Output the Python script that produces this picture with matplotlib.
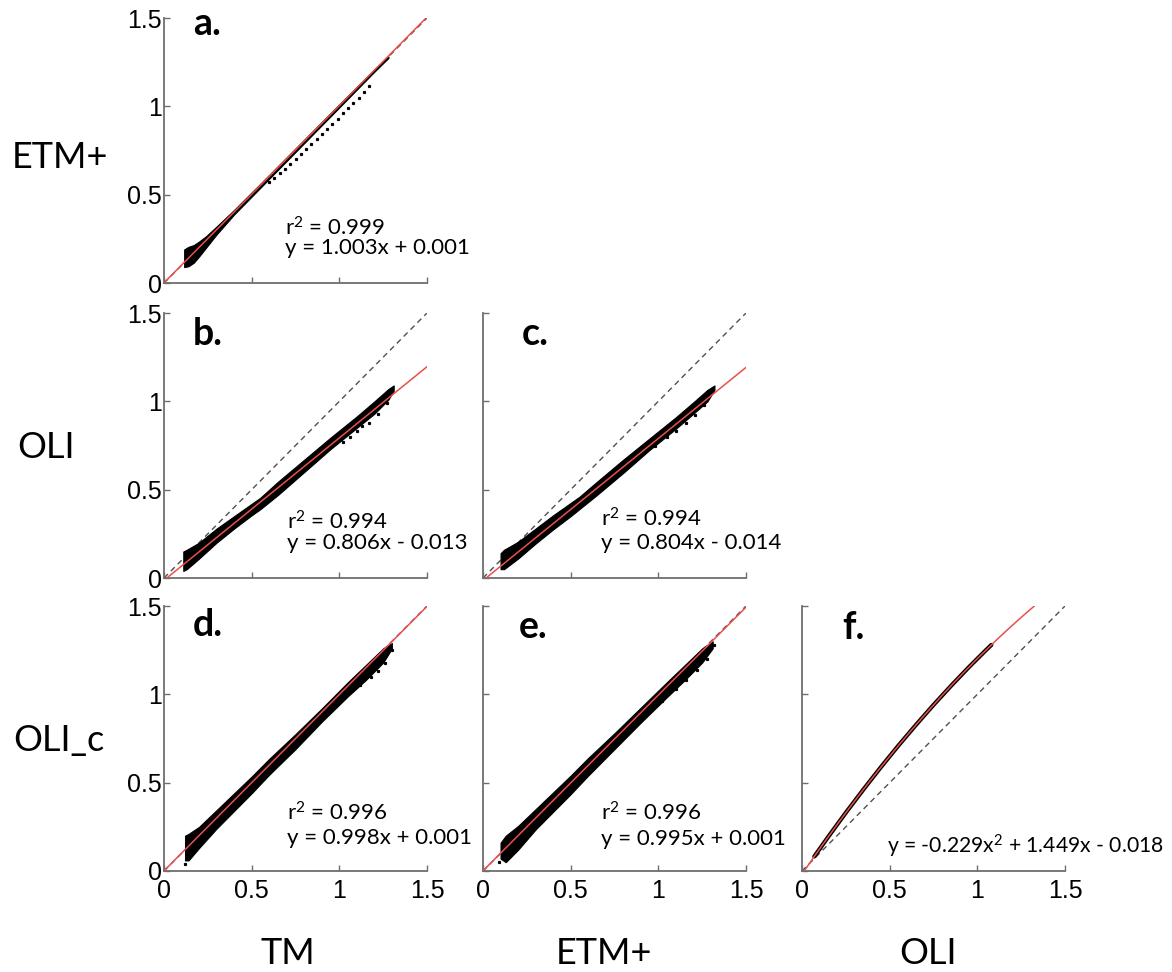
import numpy as np
import matplotlib
matplotlib.use('Agg')
import matplotlib.pyplot as plt

plt.rcParams['font.family'] = ['Lato', 'DejaVu Sans']
plt.rcParams['mathtext.fontset'] = 'custom'
plt.rcParams['mathtext.rm'] = 'Lato'
plt.rcParams['mathtext.it'] = 'Lato:italic'
plt.rcParams['mathtext.bf'] = 'Lato:bold'

# panel labels, fit text and grid positions
PANELS = ['a', 'b', 'c', 'd', 'e', 'f']
ROW_LABELS = ['ETM+', 'OLI', 'OLI_c']
COL_LABELS = ['TM', 'ETM+', 'OLI']
TICKS = [0, 0.5, 1, 1.5]
TICK_LABELS = ['0', '0.5', '1', '1.5']

R2_TEXT = {'a': 'r$^{2}$ = 0.999', 'b': 'r$^{2}$ = 0.994', 'c': 'r$^{2}$ = 0.994',
           'd': 'r$^{2}$ = 0.996', 'e': 'r$^{2}$ = 0.996', 'f': None}
EQ_TEXT = {'a': 'y = 1.003x + 0.001', 'b': 'y = 0.806x - 0.013',
           'c': 'y = 0.804x - 0.014', 'd': 'y = 0.998x + 0.001',
           'e': 'y = 0.995x + 0.001', 'f': 'y = -0.229x$^{2}$ + 1.449x - 0.018'}
# fit coefficients, highest power first
FIT = {'a': [1.003, 0.001], 'b': [0.806, -0.013], 'c': [0.804, -0.014],
       'd': [0.998, 0.001], 'e': [0.995, 0.001], 'f': [-0.229, 1.449, -0.018]}

a_x = [0.115, 0.14, 0.17, 0.20, 0.24, 0.30, 0.40, 0.60, 0.80, 1.00, 1.20, 1.28]
a_lo = [0.09, 0.095, 0.115, 0.15, 0.20, 0.275, 0.388, 0.59, 0.792, 0.994, 1.196, 1.274]
a_hi = [0.19, 0.205, 0.215, 0.235, 0.265, 0.32, 0.414, 0.612, 0.812, 1.012, 1.21, 1.282]

b_x = [0.11, 0.13, 0.20, 0.30, 0.40, 0.50, 0.55, 0.65, 0.80, 0.95, 1.10, 1.20, 1.28, 1.31]
b_lo = [0.04, 0.05, 0.11, 0.20, 0.28, 0.355, 0.39, 0.47, 0.60, 0.73, 0.85, 0.93, 1.01, 1.06]
b_hi = [0.15, 0.16, 0.20, 0.28, 0.35, 0.42, 0.455, 0.545, 0.67, 0.795, 0.915, 1.00, 1.07, 1.09]

c_x = [0.10, 0.12, 0.20, 0.30, 0.40, 0.50, 0.55, 0.65, 0.80, 0.95, 1.10, 1.20, 1.28, 1.32]
c_lo = [0.05, 0.05, 0.11, 0.195, 0.275, 0.35, 0.39, 0.47, 0.595, 0.725, 0.845, 0.93, 1.00, 1.065]
c_hi = [0.14, 0.16, 0.205, 0.28, 0.355, 0.425, 0.46, 0.545, 0.67, 0.79, 0.91, 0.995, 1.065, 1.09]

d_x = [0.12, 0.14, 0.20, 0.30, 0.40, 0.50, 0.60, 0.75, 0.90, 1.05, 1.15, 1.25, 1.30]
d_lo = [0.06, 0.06, 0.13, 0.24, 0.34, 0.44, 0.545, 0.69, 0.845, 0.99, 1.08, 1.18, 1.26]
d_hi = [0.20, 0.21, 0.25, 0.345, 0.44, 0.535, 0.635, 0.775, 0.92, 1.07, 1.165, 1.26, 1.29]

e_x = [0.10, 0.13, 0.20, 0.30, 0.40, 0.50, 0.60, 0.75, 0.90, 1.05, 1.15, 1.25, 1.31]
e_lo = [0.07, 0.05, 0.12, 0.235, 0.335, 0.435, 0.54, 0.69, 0.84, 0.985, 1.08, 1.18, 1.26]
e_hi = [0.16, 0.20, 0.255, 0.35, 0.445, 0.54, 0.64, 0.78, 0.925, 1.07, 1.165, 1.26, 1.30]

# f is a thin curve
f_x = [0.07, 0.15, 0.25, 0.35, 0.45, 0.55, 0.65, 0.75, 0.85, 0.95, 1.05, 1.08]
f_y = [0.082, 0.194, 0.330, 0.461, 0.588, 0.710, 0.827, 0.940, 1.048, 1.152, 1.251, 1.280]

# stray points
a_out_x = [0.60, 0.63, 0.66, 0.69, 0.72, 0.75, 0.78, 0.81, 0.84, 0.87, 0.90, 0.93,
           0.96, 0.99, 1.02, 1.05, 1.08, 1.11, 1.14, 1.17]
a_out_y = [0.57, 0.595, 0.62, 0.648, 0.675, 0.702, 0.73, 0.758, 0.786, 0.815, 0.843, 0.872,
           0.90, 0.93, 0.96, 0.99, 1.02, 1.05, 1.08, 1.115]
b_out_x = [1.02, 1.06, 1.10, 1.13, 1.17, 1.22, 1.27]
b_out_y = [0.77, 0.80, 0.83, 0.86, 0.88, 0.93, 0.99]
c_out_x = [0.98, 1.05, 1.10, 1.16, 1.21, 1.26]
c_out_y = [0.75, 0.80, 0.83, 0.88, 0.92, 0.98]
d_out_x = [0.12, 1.12, 1.18, 1.22, 1.26, 1.30]
d_out_y = [0.04, 1.05, 1.10, 1.13, 1.18, 1.25]
e_out_x = [0.09, 1.02, 1.10, 1.16, 1.22, 1.28, 1.32]
e_out_y = [0.05, 0.96, 1.03, 1.08, 1.14, 1.20, 1.28]

BANDS = {
    'a': (a_x, a_lo, a_hi, a_out_x, a_out_y),
    'b': (b_x, b_lo, b_hi, b_out_x, b_out_y),
    'c': (c_x, c_lo, c_hi, c_out_x, c_out_y),
    'd': (d_x, d_lo, d_hi, d_out_x, d_out_y),
    'e': (e_x, e_lo, e_hi, e_out_x, e_out_y),
}

# layout (pixels in a 1172x972 figure)
W, H = 1172, 972
COL_LEFT = [164, 483, 802]
ROW_TOP = [18, 313, 606]
AX_W, AX_H = 263, 265

GRID = {'a': (0, 0), 'b': (1, 0), 'c': (1, 1), 'd': (2, 0), 'e': (2, 1), 'f': (2, 2)}
LABEL_POS = {'a': (0.11, 0.936), 'b': (0.11, 0.878), 'c': (0.148, 0.878),
             'd': (0.11, 0.887), 'e': (0.136, 0.879), 'f': (0.153, 0.875)}
TEXT_POS = {'a': (0.46, 0.181, 0.11), 'b': (0.468, 0.183, 0.111),
            'c': (0.45, 0.194, 0.111), 'd': (0.468, 0.189, 0.103),
            'e': (0.447, 0.189, 0.099), 'f': (0.325, None, 0.066)}
TEXT_SIZE = {'a': 16, 'b': 16, 'c': 16, 'd': 16, 'e': 16, 'f': 15.2}

SPINE = '#6e6e6e'
RED = '#e8504a'

fig = plt.figure(figsize=(W / 100, H / 100), dpi=100)

for p in PANELS:
    row, col = GRID[p]
    left = COL_LEFT[col] / W
    bottom = 1 - (ROW_TOP[row] + AX_H) / H
    ax = fig.add_axes([left, bottom, AX_W / W, AX_H / H])

    xx = np.linspace(0, 1.5, 300)
    ax.plot([0, 1.5], [0, 1.5], color='#505050', lw=1.0, dashes=(4, 3), zorder=1)

    if p in BANDS:
        bx, lo, hi, ox, oy = BANDS[p]
        ax.fill_between(bx, lo, hi, color='black', lw=0.8, edgecolor='black', zorder=2)
        ax.plot(ox, oy, ls='none', marker='s', ms=1.3, color='black', zorder=2)
    else:
        ax.plot(f_x, f_y, color='black', lw=3.0, solid_capstyle='round', zorder=2)

    ax.plot(xx, np.polyval(FIT[p], xx), color=RED, lw=1.1, zorder=3)

    ax.set_xlim(0, 1.5)
    ax.set_ylim(0, 1.5)
    ax.set_xticks(TICKS)
    ax.set_yticks(TICKS)
    ax.set_xticklabels(TICK_LABELS)
    ax.set_yticklabels(TICK_LABELS)
    for s in ['top', 'right']:
        ax.spines[s].set_visible(False)
    for s in ['left', 'bottom']:
        ax.spines[s].set_color(SPINE)
        ax.spines[s].set_linewidth(1.3)
    ax.tick_params(direction='in', length=4, width=1, color=SPINE)
    ax.tick_params(axis='x', pad=6, labelbottom=(row == 2))
    ax.tick_params(axis='y', pad=1.5, labelleft=(col == 0))
    for lab in ax.get_xticklabels() + ax.get_yticklabels():
        lab.set_fontfamily('Liberation Sans')
        lab.set_fontsize(18)

    lx, ly = LABEL_POS[p]
    ax.text(lx, ly, p + '.', transform=ax.transAxes, fontsize=27,
            fontweight='bold', ha='left', va='baseline')

    tx, ry, ey = TEXT_POS[p]
    if R2_TEXT[p]:
        ax.text(tx, ry, R2_TEXT[p], transform=ax.transAxes, fontsize=TEXT_SIZE[p],
                ha='left', va='baseline')
    ax.text(tx, ey, EQ_TEXT[p], transform=ax.transAxes, fontsize=TEXT_SIZE[p],
            ha='left', va='baseline')

# row and column titles
row_cx = [60, 46, 59]
row_cy = [158, 447, 740]
for lab, cx, cy in zip(ROW_LABELS, row_cx, row_cy):
    fig.text(cx / W, 1 - cy / H, lab, fontsize=26, ha='center', va='center')

col_cx = [288, 604, 928]
for lab, cx in zip(COL_LABELS, col_cx):
    fig.text(cx / W, 1 - 953 / H, lab, fontsize=26, ha='center', va='center')

fig.savefig('out.png', dpi=100)
